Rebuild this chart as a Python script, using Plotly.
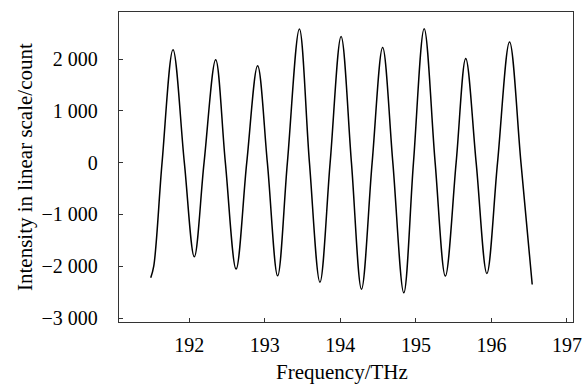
import plotly.graph_objects as go

# Frequency (THz) and intensity (count): start, zero crossings, extrema, end
freq = [191.49, 191.53, 191.64, 191.785, 191.935, 192.067, 192.196, 192.35, 192.478,
        192.62, 192.761, 192.905, 193.034, 193.17, 193.299, 193.458, 193.591, 193.73,
        193.865, 194.01, 194.147, 194.28, 194.421, 194.56, 194.695, 194.84, 194.968,
        195.11, 195.255, 195.39, 195.533, 195.66, 195.798, 195.94, 196.081, 196.24,
        196.391, 196.54]
intensity = [-2224, -2000, 0, 2180, 0, -1818, 0, 1986, 0,
             -2056, 0, 1870, 0, -2186, 0, 2580, 0, -2308,
             0, 2437, 0, -2443, 0, 2224, 0, -2514, 0,
             2586, 0, -2191, 0, 2012, 0, -2139, 0, 2329,
             0, -2352]

x_ticks = [192, 193, 194, 195, 196, 197]
y_ticks = [-3000, -2000, -1000, 0, 1000, 2000]
y_tick_labels = ["\u22123 000", "\u22122 000", "\u22121 000", "0", "1 000", "2 000"]

fig = go.Figure()
fig.add_trace(go.Scatter(x=freq, y=intensity, mode="lines",
                         line=dict(color="black", width=1.5, shape="spline", smoothing=1.0),
                         showlegend=False, hoverinfo="skip"))

family = "Liberation Serif"
tick_font = dict(family=family, size=20, color="black")
title_font = dict(family=family, size=21, color="black")
axis_common = dict(showline=True, linecolor="#333333", linewidth=1.3, mirror=True,
                   ticks="inside", ticklen=4, tickwidth=1.2, tickcolor="#333333",
                   showgrid=False, zeroline=False, tickfont=tick_font, automargin=False)

fig.update_layout(
    width=584, height=387,
    margin=dict(l=119, r=11, t=12, b=65),
    paper_bgcolor="white", plot_bgcolor="white",
    font=tick_font,
    xaxis=dict(range=[191.07, 197.08], tickvals=x_ticks,
               ticklabelstandoff=5, **axis_common),
    yaxis=dict(range=[-3077, 2909], tickvals=y_ticks, ticktext=y_tick_labels,
               ticklabelstandoff=16, **axis_common),
    annotations=[
        dict(text="Frequency/THz", xref="paper", yref="paper", x=0.5, y=0,
             xanchor="center", yanchor="bottom", yshift=-64, xshift=-4,
             showarrow=False, font=title_font),
        dict(text="Intensity in linear scale/count", xref="paper", yref="paper",
             x=0, y=0.5, xanchor="center", yanchor="middle", xshift=-94,
             textangle=-90, showarrow=False, font=title_font),
    ],
)

# remove the default page margin so the 584x387 figure fills the window exactly
fig.write_html("out.html", config={"displayModeBar": False},
               post_script="document.body.style.margin='0';document.body.style.overflow='hidden';")
